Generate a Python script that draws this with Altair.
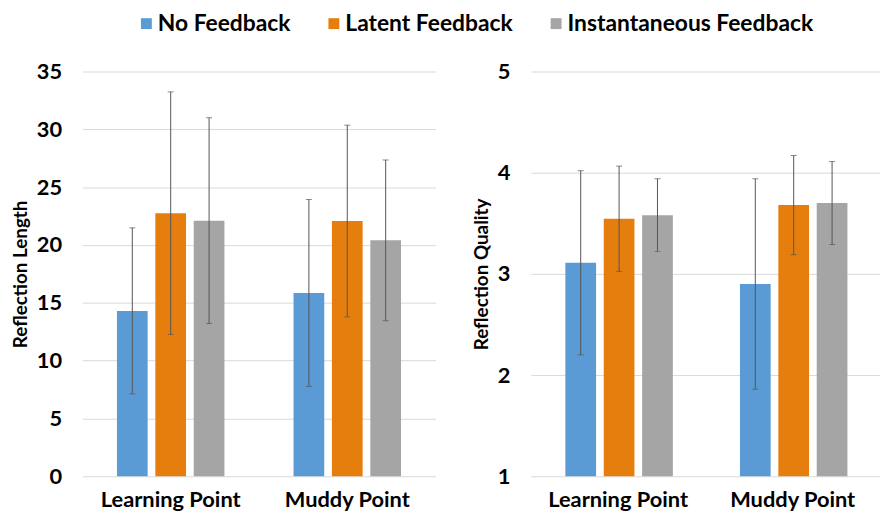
import altair as alt
import pandas as pd

categories = ["Learning Point", "Muddy Point"]
conditions = ["No Feedback", "Latent Feedback", "Instantaneous Feedback"]
colors = ["#5B9BD5", "#E67E0E", "#A5A5A5"]

# order: LP (No, Latent, Inst), MP (No, Latent, Inst)
length_mean = [14.3, 22.75, 22.1, 15.85, 22.07, 20.4]
length_err = [7.18, 10.49, 8.9, 8.08, 8.29, 6.95]
quality_mean = [3.11, 3.545, 3.58, 2.90, 3.68, 3.70]
quality_err = [0.91, 0.52, 0.36, 1.04, 0.49, 0.41]

FONT = "Lato"


def make_df(means, errs):
    rows = []
    i = 0
    for c in categories:
        for k in conditions:
            rows.append({"category": c, "condition": k, "mean": means[i],
                         "lo": means[i] - errs[i], "hi": means[i] + errs[i]})
            i += 1
    return pd.DataFrame(rows)


legend = alt.Legend(orient="none", legendX=53, legendY=-60, direction="horizontal",
                    title=None, labelFont=FONT, labelFontWeight="bold", labelFontSize=23,
                    labelColor="black", symbolType="square", symbolSize=120,
                    symbolStrokeWidth=0, labelLimit=0, columnPadding=32, labelOffset=0)


def panel(df, title, domain, ticks, base, width, height):
    x = alt.X("category:N", sort=categories, title=None,
              scale=alt.Scale(paddingInner=0, paddingOuter=0),
              axis=alt.Axis(labelAngle=0, labelFont=FONT, labelFontWeight="bold",
                            labelFontSize=22, labelColor="black", labelPadding=13,
                            ticks=False, tickSize=0, domain=False))
    xo = alt.XOffset("condition:N", sort=conditions,
                     scale=alt.Scale(paddingInner=0.2, paddingOuter=0.9))
    y_axis = alt.Axis(values=ticks, format="d", title=title, titleFont=FONT,
                      titleFontWeight="bold", titleFontSize=19, titleColor="black",
                      titlePadding=6, labelFont=FONT, labelFontWeight="bold",
                      labelFontSize=22, labelColor="black", labelPadding=21, ticks=False,
                      tickSize=0, domain=False, grid=True, gridColor="#D9D9D9", gridWidth=1)
    yscale = alt.Scale(domain=domain, nice=False, zero=False)
    bars = alt.Chart(df).mark_bar().encode(
        x=x, xOffset=xo,
        y=alt.Y("mean:Q", scale=yscale, axis=y_axis),
        y2=alt.datum(base),
        color=alt.Color("condition:N", sort=conditions,
                        scale=alt.Scale(domain=conditions, range=colors), legend=legend),
    )
    rules = alt.Chart(df).mark_rule(color="#555555", strokeWidth=1).encode(
        x=x, xOffset=xo, y=alt.Y("lo:Q", scale=yscale), y2="hi:Q")
    cap_lo = alt.Chart(df).mark_tick(color="#555555", thickness=1, size=6).encode(
        x=x, xOffset=xo, y=alt.Y("lo:Q", scale=yscale))
    cap_hi = alt.Chart(df).mark_tick(color="#555555", thickness=1, size=6).encode(
        x=x, xOffset=xo, y=alt.Y("hi:Q", scale=yscale))
    return alt.layer(bars, rules, cap_lo, cap_hi).properties(width=width, height=height)


left = panel(make_df(length_mean, length_err), "Reflection Length", [0, 35],
             [0, 5, 10, 15, 20, 25, 30, 35], 0, 356, 408)
right = panel(make_df(quality_mean, quality_err), "Reflection Quality", [1, 5],
              [1, 2, 3, 4, 5], 1, 352, 408)

chart = alt.hconcat(left, right, spacing=37).properties(
    padding={"left": 3, "top": 2, "right": 0, "bottom": 0}, background="white"
).configure_view(stroke=None)

chart.save("out.html", embed_options={"renderer": "svg", "actions": False})
